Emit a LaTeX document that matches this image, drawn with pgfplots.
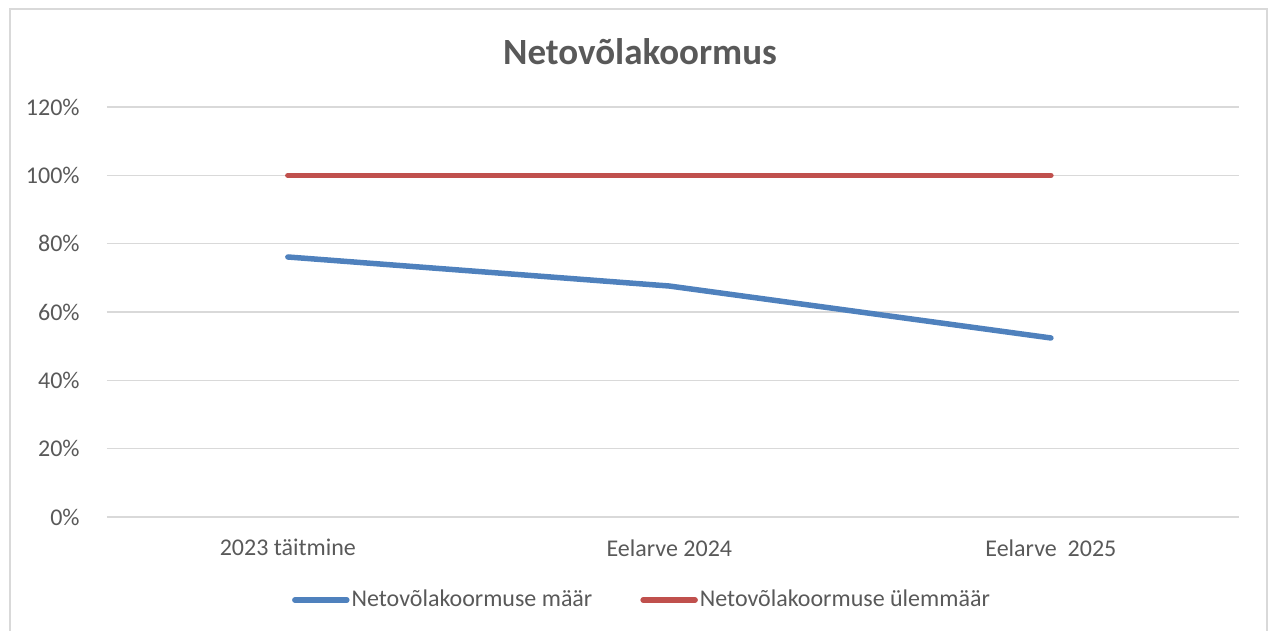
\documentclass[border=0pt]{standalone}
\usepackage{fontspec}
\setmainfont{Carlito}
\usepackage{pgfplots}
\pgfplotsset{compat=1.18}
\definecolor{lineBlue}{HTML}{4F81BD}
\definecolor{lineRed}{HTML}{C0504D}
\definecolor{txtGray}{HTML}{595959}
\definecolor{gridGray}{HTML}{D9D9D9}

\begin{document}
\begin{tikzpicture}
% page frame, 1px = 0.5pt
\path[use as bounding box] (0,0) rectangle (634.5pt,315.5pt);
\draw[gridGray, line width=0.75pt] (5pt,0) -- (5pt,311pt) -- (633.5pt,311pt) -- (633.5pt,0);

\node[anchor=base, font=\fontsize{18.5}{20}\selectfont\bfseries, text=txtGray]
    at (320pt,283pt) {Netovõlakoormus};

\begin{axis}[
    at={(53.5pt,57pt)}, anchor=south west,
    scale only axis,
    width=566pt, height=205pt,
    xmin=-0.474, xmax=2.493,
    ymin=0, ymax=120,
    xtick={0,1,2},
    xticklabels={2023 täitmine, Eelarve 2024, Eelarve\ \ 2025},
    ytick={0,20,...,120},
    yticklabel={\pgfmathprintnumber{\tick}\%},
    /pgf/number format/assume math mode=true,
    axis line style={draw=none},
    major tick length=0pt,
    ymajorgrids,
    grid style={gridGray, line width=0.75pt},
    tick label style={font=\fontsize{12}{14}\selectfont, text=txtGray, inner sep=0pt},
    yticklabel style={xshift=-13.5pt},
    xticklabel style={yshift=-11pt},
    legend style={at={(0.4726,-0.2024)}, anchor=center, draw=none, fill=none,
        font=\fontsize{12}{14}\selectfont, text=txtGray,
        /tikz/every even column/.append style={column sep=23pt},
        nodes={inner sep=1pt}},
    legend columns=2,
    legend image code/.code={\draw[#1, line cap=round] (0pt,0pt) -- (26pt,0pt);},
    every axis plot/.append style={line width=2.75pt, line cap=round, line join=round, mark=none},
]
\addplot[lineBlue] coordinates {(0,76.1) (1,67.6) (2,52.4)};
\addlegendentry{Netovõlakoormuse määr}
\addplot[lineRed] coordinates {(0,100) (1,100) (2,100)};
\addlegendentry{Netovõlakoormuse ülemmäär}
\end{axis}
\end{tikzpicture}
\end{document}
